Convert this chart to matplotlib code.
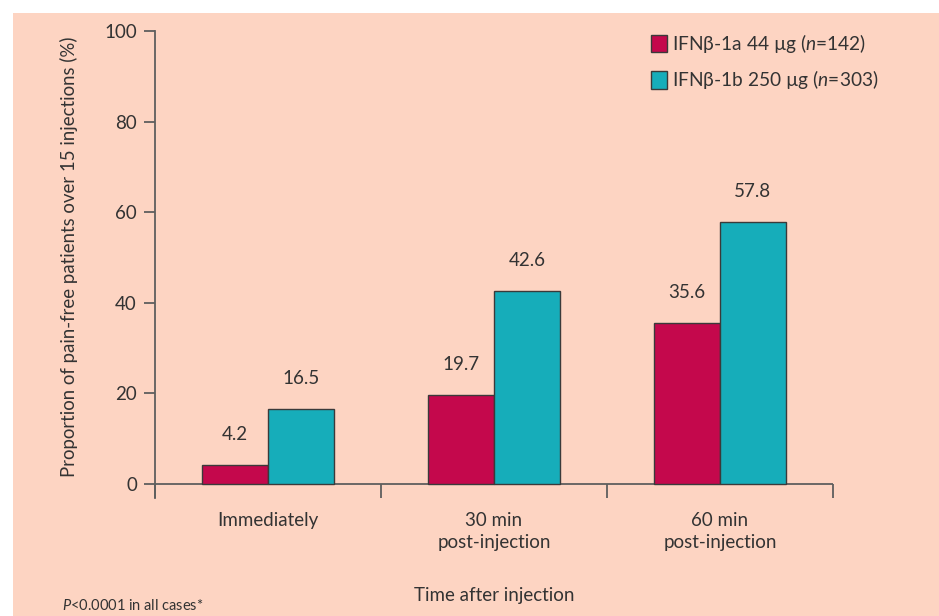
import matplotlib
matplotlib.use("Agg")
import matplotlib.pyplot as plt
from matplotlib.patches import Rectangle, Patch
import numpy as np

# Data
categories = ["Immediately", "30 min\npost-injection", "60 min\npost-injection"]
ifn_1a = [4.2, 19.7, 35.6]
ifn_1b = [16.5, 42.6, 57.8]
series_labels = [r"IFNβ-1a 44 µg ($\mathit{n}$=142)",
                 r"IFNβ-1b 250 µg ($\mathit{n}$=303)"]
y_ticks = [0, 20, 40, 60, 80, 100]

# Style
BG = "#FDD4C2"
MAGENTA = "#C4084C"
TEAL = "#16ADBA"
EDGE = "#3a3a3a"
TEXT = "#333333"
AXIS = "#5e5e5e"

plt.rcParams["font.family"] = ["Lato", "DejaVu Sans"]
plt.rcParams["mathtext.fontset"] = "custom"
plt.rcParams["mathtext.rm"] = "Lato"
plt.rcParams["mathtext.it"] = "Lato:italic"
plt.rcParams["text.color"] = TEXT

W, H = 939, 616
fig = plt.figure(figsize=(W / 100, H / 100), dpi=100, facecolor="white")

# Peach panel behind everything
fig.patches.append(Rectangle((13 / W, 0), 1 - 13 / W, 1 - 13 / H,
                             transform=fig.transFigure, facecolor=BG,
                             edgecolor="none", zorder=-10))

ax = fig.add_axes([155 / W, 1 - 498 / H, (833 - 155) / W, (498 - 31.5) / H])
ax.set_facecolor("none")

x = np.arange(len(categories))
bw = 0.29
ax.bar(x - bw / 2, ifn_1a, width=bw, color=MAGENTA, edgecolor=EDGE,
       linewidth=1.0, zorder=3)
ax.bar(x + bw / 2, ifn_1b, width=bw, color=TEAL, edgecolor=EDGE,
       linewidth=1.0, zorder=3)

for xi, v in zip(x - bw / 2, ifn_1a):
    ax.annotate(f"{v}", (xi, v), xytext=(0, 22), textcoords="offset points",
                ha="center", va="center", fontsize=13.5, color=TEXT)
for xi, v in zip(x + bw / 2, ifn_1b):
    ax.annotate(f"{v}", (xi, v), xytext=(0, 22), textcoords="offset points",
                ha="center", va="center", fontsize=13.5, color=TEXT)

ax.set_xlim(-0.5, 2.5)
ax.set_ylim(-3.1, 100)

for s in ["top", "right", "bottom"]:
    ax.spines[s].set_visible(False)
ax.spines["left"].set_color(AXIS)
ax.spines["left"].set_linewidth(1.3)
ax.axhline(0, color=AXIS, linewidth=1.3, zorder=2)

ax.set_yticks(y_ticks)
ax.set_yticklabels([str(t) for t in y_ticks])
ax.tick_params(axis="y", direction="out", length=8, width=1.3, color=AXIS,
               pad=5, labelsize=13.5, labelcolor=TEXT)

# Group separators as major ticks, category names as minor tick labels
ax.set_xticks([-0.5, 0.5, 1.5, 2.5])
ax.set_xticklabels([])
ax.tick_params(axis="x", which="major", direction="in", length=10, width=1.3,
               color=AXIS)
ax.set_xticks(x, minor=True)
ax.set_xticklabels(categories, minor=True, fontsize=13.5, color=TEXT,
                   linespacing=1.4)
ax.tick_params(axis="x", which="minor", length=0, pad=10)

ax.set_ylabel("Proportion of pain-free patients over 15 injections (%)",
              fontsize=13.4, color=TEXT)
ax.yaxis.set_label_coords(-0.113, 0.517)

fig.text(494 / W, 1 - 596 / H, "Time after injection", ha="center",
         va="center", fontsize=13.5, color=TEXT)
fig.text(62 / W, 1 - 606 / H, r"$\mathit{P}$<0.0001 in all cases*",
         ha="left", va="center", fontsize=10.5, color=TEXT)

handles = [Patch(facecolor=MAGENTA, edgecolor=EDGE, linewidth=1.0),
           Patch(facecolor=TEAL, edgecolor=EDGE, linewidth=1.0)]
ax.legend(handles, series_labels, loc="upper left",
          bbox_to_anchor=(651 / W, 1 - 32 / H), bbox_transform=fig.transFigure,
          frameon=False, fontsize=13.8, handlelength=0.82, handleheight=1.05,
          handletextpad=0.3, labelspacing=0.7, borderpad=0, borderaxespad=0,
          labelcolor=TEXT)

fig.savefig("out.png", dpi=100, facecolor="white")
